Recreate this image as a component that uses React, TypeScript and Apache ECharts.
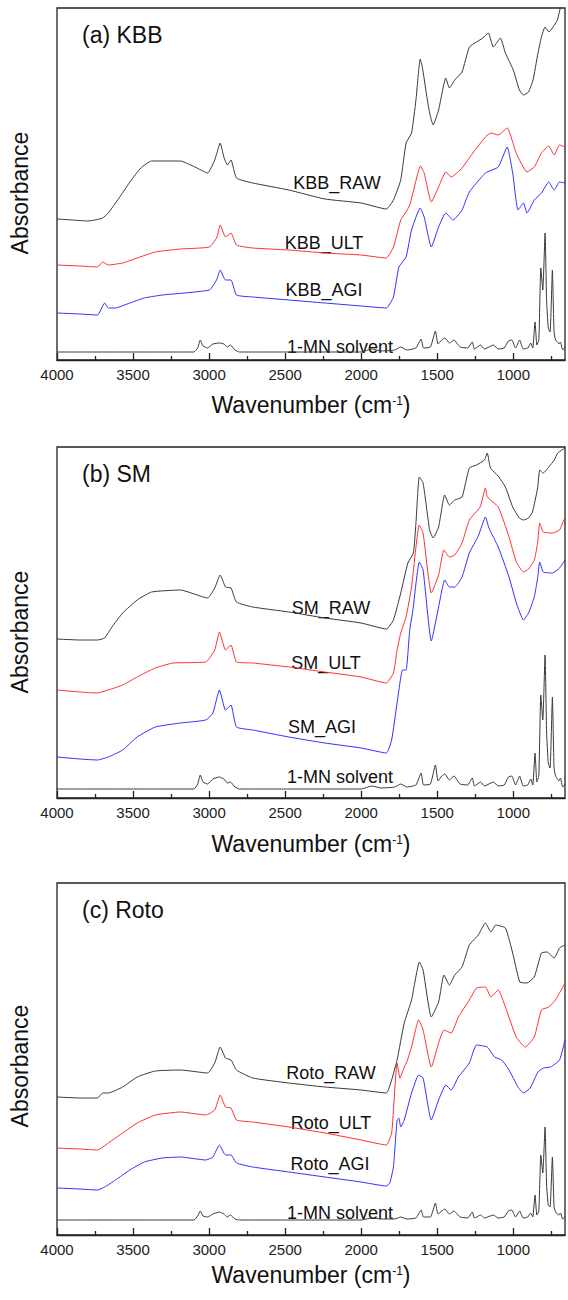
import React, { useEffect, useRef } from 'react';
import * as echarts from 'echarts';

// ---------- data (wavenumber cm-1, absorbance a.u.) ----------
const WN_TICKS = [1000, 1500, 2000, 2500, 3000, 3500, 4000];
const WN_MINOR = [750, 1250, 1750, 2250, 2750, 3250, 3750];
const X_MIN = 660;
const X_MAX = 4000;

const KBB_RAW: [number, number][] = [
  [4000, 141], [3900, 140], [3800, 139], [3750, 140], [3700, 142], [3663, 147], [3592, 162], [3521, 178],
  [3449, 192], [3378, 199], [3188, 199], [3093, 193], [3010, 187], [2963, 200], [2927, 217], [2903, 203],
  [2880, 195], [2856, 200], [2820, 182], [2713, 177], [2476, 170], [2239, 161], [2001, 157], [1835, 151],
  [1788, 160], [1740, 180], [1705, 217], [1669, 227], [1640, 260], [1612, 301], [1598, 293], [1570, 265],
  [1550, 247], [1527, 235], [1491, 250], [1444, 282], [1420, 272], [1385, 280], [1337, 288], [1289, 313],
  [1242, 318], [1200, 322], [1164, 327], [1131, 313], [1085, 322], [1052, 307], [1000, 290], [960, 270],
  [933, 265], [900, 268], [870, 280], [840, 305], [815, 323], [791, 333], [765, 328], [743, 332],
  [710, 340], [691, 352], [671, 360], [660, 366],
];
const KBB_ULT: [number, number][] = [
  [4000, 95], [3850, 94], [3734, 93], [3699, 98], [3663, 95], [3568, 97], [3473, 102], [3354, 108],
  [3188, 111], [2998, 113], [2951, 122], [2927, 135], [2892, 123], [2856, 127], [2820, 115], [2713, 112],
  [2476, 110], [2239, 107], [2001, 105], [1835, 102], [1788, 113], [1740, 140], [1705, 148], [1681, 155],
  [1660, 167], [1610, 194], [1586, 187], [1539, 158], [1491, 173], [1444, 188], [1408, 183], [1337, 192],
  [1266, 207], [1183, 223], [1147, 227], [1099, 225], [1040, 232], [981, 207], [910, 188], [862, 193],
  [815, 207], [767, 214], [731, 205], [696, 215], [660, 213],
];
const KBB_AGI: [number, number][] = [
  [4000, 47], [3850, 46], [3734, 45], [3687, 57], [3663, 52], [3615, 52], [3556, 55], [3426, 62],
  [3307, 65], [2998, 70], [2951, 80], [2927, 90], [2892, 80], [2856, 80], [2820, 65], [2713, 63],
  [2476, 60], [2239, 57], [2001, 54], [1835, 52], [1788, 63], [1752, 93], [1705, 103], [1669, 130],
  [1612, 152], [1586, 143], [1539, 113], [1491, 133], [1444, 147], [1396, 140], [1337, 150], [1289, 168],
  [1183, 187], [1099, 193], [1040, 213], [1004, 187], [969, 150], [933, 157], [910, 147], [862, 160],
  [815, 167], [767, 178], [731, 170], [696, 178], [660, 177],
];
const KBB_SOLVENT: [number, number][] = [
  [4000, 8], [3800, 8], [3600, 8], [3300, 8], [3100, 8], [3075, 12], [3058, 20], [3040, 14], [3010, 12],
  [2975, 16], [2932, 17], [2903, 16], [2880, 13], [2860, 15], [2830, 10], [2800, 8], [2500, 8], [2000, 8],
  [1930, 11], [1870, 9], [1780, 10], [1740, 13], [1700, 10], [1640, 12], [1606, 21], [1590, 12], [1545, 13],
  [1512, 29], [1495, 16], [1470, 20], [1450, 22], [1420, 17], [1390, 20], [1350, 13], [1300, 12], [1270, 18],
  [1255, 11], [1215, 15], [1190, 11], [1130, 15], [1100, 11], [1060, 12], [1032, 19], [1010, 20], [985, 12],
  [958, 20], [935, 11], [905, 12], [885, 17], [872, 12], [857, 38], [845, 15], [832, 20], [819, 92],
  [806, 70], [791, 127], [781, 60], [770, 32], [758, 28], [743, 90], [732, 28], [722, 20], [710, 18],
  [700, 16], [690, 18], [675, 10], [660, 13],
];

const SM_RAW: [number, number][] = [
  [4000, 159], [3850, 158], [3734, 158], [3687, 160], [3639, 171], [3568, 185], [3473, 198], [3378, 206],
  [3188, 208], [3010, 200], [2963, 210], [2927, 223], [2892, 211], [2856, 210], [2820, 196], [2713, 191],
  [2476, 186], [2239, 180], [2001, 175], [1835, 169], [1788, 178], [1740, 205], [1693, 235], [1657, 245],
  [1640, 275], [1618, 321], [1593, 315], [1550, 268], [1527, 260], [1491, 271], [1451, 303], [1420, 293],
  [1385, 298], [1337, 301], [1289, 330], [1242, 333], [1190, 338], [1171, 345], [1150, 330], [1100, 322],
  [1052, 311], [1004, 291], [960, 280], [933, 278], [900, 280], [874, 286], [840, 310], [826, 328],
  [803, 325], [767, 331], [730, 338], [708, 345], [660, 350],
];
const SM_ULT: [number, number][] = [
  [4000, 108], [3850, 106], [3734, 105], [3663, 108], [3568, 113], [3473, 121], [3354, 130], [3236, 135],
  [3022, 136], [2963, 148], [2932, 166], [2892, 148], [2856, 153], [2820, 136], [2713, 135], [2476, 131],
  [2239, 126], [2001, 121], [1835, 115], [1788, 125], [1764, 148], [1740, 165], [1705, 181], [1669, 211],
  [1618, 273], [1593, 265], [1539, 205], [1491, 223], [1456, 248], [1420, 241], [1385, 243], [1337, 255],
  [1289, 278], [1218, 291], [1183, 310], [1171, 301], [1099, 291], [1028, 261], [980, 236], [933, 226],
  [900, 229], [862, 238], [840, 255], [826, 275], [803, 266], [743, 265], [696, 268], [660, 281],
];
const SM_AGI: [number, number][] = [
  [4000, 41], [3850, 39], [3734, 38], [3663, 41], [3568, 48], [3473, 61], [3354, 71], [3188, 75],
  [3022, 78], [2975, 85], [2932, 108], [2892, 88], [2856, 93], [2820, 71], [2713, 68], [2476, 61],
  [2239, 55], [2001, 50], [1835, 45], [1800, 58], [1764, 95], [1728, 128], [1705, 128], [1681, 168],
  [1660, 188], [1618, 236], [1593, 228], [1539, 157], [1491, 191], [1451, 218], [1420, 211], [1385, 211],
  [1337, 221], [1289, 245], [1230, 262], [1183, 281], [1160, 270], [1099, 251], [1028, 221], [980, 195],
  [933, 178], [900, 185], [862, 201], [840, 220], [826, 236], [803, 226], [743, 225], [696, 230], [660, 238],
];
const SM_SOLVENT: [number, number][] = [
  [4000, 9], [3800, 9], [3600, 9], [3300, 9], [3100, 9], [3075, 14], [3058, 23], [3040, 16], [3010, 14],
  [2975, 19], [2932, 21], [2903, 19], [2880, 15], [2860, 16], [2830, 11], [2800, 9], [2500, 9], [2000, 9],
  [1930, 12], [1870, 10], [1780, 11], [1740, 14], [1700, 11], [1640, 13], [1606, 25], [1590, 13], [1545, 14],
  [1512, 33], [1495, 17], [1470, 22], [1450, 24], [1420, 18], [1390, 22], [1350, 14], [1300, 13], [1270, 20],
  [1255, 12], [1215, 16], [1190, 12], [1130, 16], [1100, 12], [1060, 13], [1032, 21], [1010, 22], [985, 13],
  [958, 22], [935, 12], [905, 13], [885, 19], [872, 13], [857, 45], [845, 16], [832, 22], [819, 103],
  [806, 78], [791, 143], [781, 66], [770, 35], [758, 30], [743, 101], [732, 30], [722, 22], [710, 19],
  [700, 17], [690, 20], [675, 11], [660, 14],
];

const ROTO_RAW: [number, number][] = [
  [4000, 138], [3850, 137], [3734, 137], [3699, 142], [3663, 142], [3568, 148], [3473, 158], [3354, 164],
  [3188, 165], [3010, 162], [2963, 172], [2927, 188], [2892, 177], [2856, 175], [2820, 165], [2713, 157],
  [2476, 152], [2239, 148], [2001, 145], [1835, 142], [1800, 155], [1764, 175], [1717, 212], [1669, 235],
  [1617, 273], [1593, 265], [1539, 218], [1491, 233], [1456, 260], [1420, 250], [1385, 260], [1337, 268],
  [1289, 290], [1230, 300], [1183, 312], [1147, 303], [1115, 310], [1052, 307], [1004, 282], [957, 253],
  [910, 252], [862, 258], [815, 282], [779, 283], [731, 277], [696, 287], [660, 290],
];
const ROTO_ULT: [number, number][] = [
  [4000, 87], [3850, 86], [3734, 85], [3663, 92], [3568, 102], [3473, 112], [3354, 120], [3188, 123],
  [3022, 120], [2963, 125], [2927, 140], [2892, 128], [2856, 127], [2820, 115], [2713, 113], [2476, 108],
  [2239, 102], [2001, 95], [1835, 90], [1800, 102], [1788, 125], [1764, 172], [1745, 157], [1717, 168],
  [1700, 173], [1669, 188], [1622, 215], [1593, 205], [1539, 168], [1491, 192], [1456, 205], [1408, 202],
  [1361, 218], [1289, 235], [1242, 247], [1183, 248], [1147, 238], [1099, 245], [1052, 228], [981, 198],
  [921, 188], [862, 198], [815, 225], [767, 228], [723, 235], [660, 252],
];
const ROTO_AGI: [number, number][] = [
  [4000, 47], [3850, 46], [3734, 45], [3687, 48], [3615, 55], [3521, 65], [3426, 73], [3307, 77],
  [3188, 78], [3022, 75], [2975, 78], [2932, 90], [2892, 80], [2856, 80], [2820, 72], [2713, 68],
  [2476, 63], [2239, 58], [2001, 53], [1835, 49], [1812, 52], [1788, 68], [1764, 115], [1752, 117],
  [1740, 108], [1717, 115], [1669, 142], [1622, 160], [1593, 157], [1539, 115], [1491, 135], [1444, 150],
  [1408, 145], [1361, 158], [1289, 172], [1242, 190], [1171, 188], [1123, 178], [1076, 175], [1028, 165],
  [969, 148], [933, 142], [889, 147], [838, 163], [803, 167], [755, 168], [696, 175], [660, 195],
];
const ROTO_SOLVENT: [number, number][] = [
  [4000, 15], [3800, 15], [3600, 15], [3300, 15], [3100, 15], [3075, 19], [3058, 24], [3040, 19], [3010, 18],
  [2975, 21], [2932, 23], [2903, 21], [2880, 18], [2860, 20], [2830, 16], [2800, 15], [2500, 15], [2000, 15],
  [1930, 17], [1870, 16], [1780, 16], [1740, 18], [1700, 16], [1640, 17], [1606, 25], [1590, 18], [1545, 18],
  [1512, 32], [1495, 21], [1470, 24], [1450, 26], [1420, 21], [1390, 24], [1350, 18], [1300, 17], [1270, 23],
  [1255, 17], [1215, 20], [1190, 17], [1130, 20], [1100, 17], [1060, 18], [1032, 24], [1010, 25], [985, 18],
  [958, 24], [935, 17], [905, 18], [885, 22], [872, 18], [857, 40], [845, 20], [832, 24], [819, 80],
  [806, 62], [791, 108], [781, 50], [770, 30], [758, 28], [743, 78], [732, 28], [722, 23], [710, 21],
  [700, 20], [690, 22], [675, 16], [660, 18],
];

const SERIES_NAMES = [
  ['KBB_RAW', 'KBB_ULT', 'KBB_AGI', '1-MN solvent'],
  ['SM_RAW', 'SM_ULT', 'SM_AGI', '1-MN solvent'],
  ['Roto_RAW', 'Roto_ULT', 'Roto_AGI', '1-MN solvent'],
];
const SERIES_DATA = [
  [KBB_RAW, KBB_ULT, KBB_AGI, KBB_SOLVENT],
  [SM_RAW, SM_ULT, SM_AGI, SM_SOLVENT],
  [ROTO_RAW, ROTO_ULT, ROTO_AGI, ROTO_SOLVENT],
];
const PANEL_TITLES = ['(a) KBB', '(b) SM', '(c) Roto'];

// ---------- layout ----------
const FONT = '"Liberation Sans", Arial, Helvetica, sans-serif';
const COLORS = ['#3a3a3a', '#ff3030', '#3030ff', '#3a3a3a'];
const GRID_LEFT = 57;
const GRID_WIDTH = 508;
const PANELS = [
  { top: 8, height: 352, absY: 193, titleY: 405,
    labels: [[337, 183], [324, 243], [324, 290], [340, 347]] },
  { top: 447, height: 351, absY: 632, titleY: 844,
    labels: [[331, 608], [326, 663], [322, 727], [340, 777]] },
  { top: 883, height: 352, absY: 1066, titleY: 1275,
    labels: [[331, 1073], [331, 1123], [330, 1164], [340, 1213]] },
];

export default function App() {
  const ref = useRef<HTMLDivElement>(null);

  useEffect(() => {
    if (!ref.current) return;
    const chart = echarts.init(ref.current, null, { renderer: 'svg' });

    const grid = PANELS.map((p) => ({
      left: GRID_LEFT,
      top: p.top,
      width: GRID_WIDTH,
      height: p.height,
      show: true,
      borderColor: '#222',
      borderWidth: 1.3,
      backgroundColor: 'transparent',
      containLabel: false,
    }));

    const majorAxes = PANELS.map((_, i) => ({
      type: 'value',
      gridIndex: i,
      position: 'bottom',
      inverse: true,
      min: X_MIN,
      max: X_MAX,
      axisLine: { show: true, onZero: false, lineStyle: { color: '#222', width: 1.3 } },
      axisTick: { show: true, inside: true, length: 7, customValues: WN_TICKS, lineStyle: { color: '#222', width: 1.3 } },
      axisLabel: {
        show: true,
        customValues: WN_TICKS,
        fontSize: 15,
        color: '#222',
        margin: 7,
        fontFamily: FONT,
        formatter: (v: number) => String(v),
      },
      splitLine: { show: false },
    }));
    const minorAxes = PANELS.map((_, i) => ({
      type: 'value',
      gridIndex: i,
      position: 'bottom',
      inverse: true,
      min: X_MIN,
      max: X_MAX,
      axisLine: { show: false, onZero: false },
      axisTick: { show: true, inside: true, length: 4, customValues: WN_MINOR, lineStyle: { color: '#222', width: 1.3 } },
      axisLabel: { show: false },
      splitLine: { show: false },
    }));

    const yAxis = PANELS.map((p, i) => ({
      type: 'value',
      gridIndex: i,
      min: 0,
      max: p.height,
      axisLine: { show: false },
      axisTick: { show: false },
      axisLabel: { show: false },
      splitLine: { show: false },
    }));

    const series: any[] = [];
    SERIES_DATA.forEach((group, pi) => {
      group.forEach((data, si) => {
        series.push({
          type: 'line',
          name: SERIES_NAMES[pi][si],
          xAxisIndex: pi,
          yAxisIndex: pi,
          data,
          showSymbol: false,
          smooth: 0.15,
          lineStyle: { color: COLORS[si], width: 1 },
          itemStyle: { color: COLORS[si] },
          clip: true,
          silent: true,
        });
      });
    });

    const graphic: any[] = [];
    PANELS.forEach((p, pi) => {
      graphic.push({
        type: 'text',
        x: 82,
        y: p.top + 27,
        style: { text: PANEL_TITLES[pi], font: `23px ${FONT}`, fill: '#111', align: 'left', verticalAlign: 'middle' },
      });
      graphic.push({
        type: 'text',
        x: 20,
        y: p.absY,
        rotation: Math.PI / 2,
        style: { text: 'Absorbance', font: `23px ${FONT}`, fill: '#111', align: 'center', verticalAlign: 'middle' },
      });
      graphic.push({
        type: 'text',
        x: GRID_LEFT + GRID_WIDTH / 2,
        y: p.titleY,
        style: {
          text: '{a|Wavenumber (cm}{s|-1}{a|)}',
          align: 'center',
          verticalAlign: 'middle',
          fill: '#111',
          rich: {
            a: { fontSize: 23, fontFamily: FONT, fill: '#111' },
            s: { fontSize: 12, fontFamily: FONT, fill: '#111', padding: [0, 0, 9, 0] },
          },
        },
      });
      p.labels.forEach(([lx, ly], si) => {
        graphic.push({
          type: 'text',
          x: lx,
          y: ly,
          style: { text: SERIES_NAMES[pi][si], font: `18px ${FONT}`, fill: '#111', align: 'center', verticalAlign: 'middle' },
        });
      });
    });

    chart.setOption({
      animation: false,
      backgroundColor: '#ffffff',
      grid,
      xAxis: [...majorAxes, ...minorAxes],
      yAxis,
      series,
      graphic,
    });

    return () => chart.dispose();
  }, []);

  return (
    <div
      ref={ref}
      style={{ position: 'absolute', left: 0, top: 0, width: 568, height: 1300 }}
    />
  );
}
